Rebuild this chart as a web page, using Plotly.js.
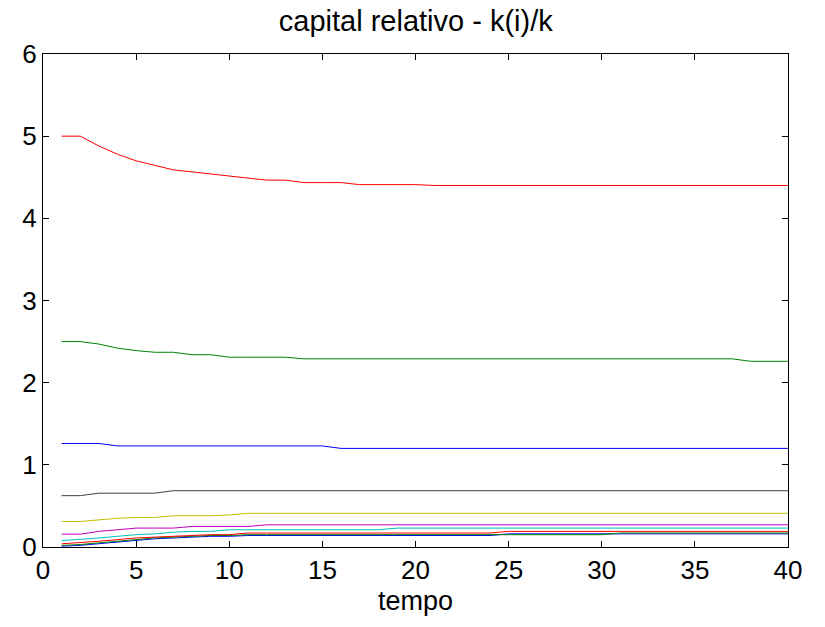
<!DOCTYPE html>
<html>
<head>
<meta charset="utf-8">
<script src="https://cdn.plot.ly/plotly-3.0.1.min.js"></script>
<style>html,body{margin:0;padding:0;background:#fff;}#chart{width:825px;height:627px;}</style>
</head>
<body>
<div id="chart"></div>
<script>
var tempo = [];
for (var t = 1; t <= 40; t++) tempo.push(t);

// relative capital per agent (10 agents)
var agent10 = [5.00,5.00,4.88,4.78,4.70,4.645,4.59,4.565,4.54,4.515,4.49,4.465,4.465,4.435,4.435,4.435,4.41,4.41,4.41,4.41,4.40,4.40,4.40,4.40,4.40,4.40,4.40,4.40,4.40,4.40,4.40,4.40,4.40,4.40,4.40,4.40,4.40,4.40,4.40,4.40];
var agent9 = [2.50,2.50,2.47,2.42,2.39,2.37,2.37,2.34,2.34,2.31,2.31,2.31,2.31,2.29,2.29,2.29,2.29,2.29,2.29,2.29,2.29,2.29,2.29,2.29,2.29,2.29,2.29,2.29,2.29,2.29,2.29,2.29,2.29,2.29,2.29,2.29,2.29,2.26,2.26,2.26];
var agent8 = [1.26,1.26,1.26,1.23,1.23,1.23,1.23,1.23,1.23,1.23,1.23,1.23,1.23,1.23,1.23,1.20,1.20,1.20,1.20,1.20,1.20,1.20,1.20,1.20,1.20,1.20,1.20,1.20,1.20,1.20,1.20,1.20,1.20,1.20,1.20,1.20,1.20,1.20,1.20,1.20];
var agent7 = [0.625,0.625,0.655,0.655,0.655,0.655,0.685,0.685,0.685,0.685,0.685,0.685,0.685,0.685,0.685,0.685,0.685,0.685,0.685,0.685,0.685,0.685,0.685,0.685,0.685,0.685,0.685,0.685,0.685,0.685,0.685,0.685,0.685,0.685,0.685,0.685,0.685,0.685,0.685,0.685];
var agent6 = [0.31,0.31,0.33,0.35,0.36,0.36,0.38,0.38,0.38,0.39,0.41,0.41,0.41,0.41,0.41,0.41,0.41,0.41,0.41,0.41,0.41,0.41,0.41,0.41,0.41,0.41,0.41,0.41,0.41,0.41,0.41,0.41,0.41,0.41,0.41,0.41,0.41,0.41,0.41,0.41];
var agent5 = [0.156,0.156,0.19,0.21,0.23,0.23,0.23,0.25,0.25,0.25,0.25,0.27,0.27,0.27,0.27,0.27,0.27,0.27,0.27,0.27,0.27,0.27,0.27,0.27,0.27,0.27,0.27,0.27,0.27,0.27,0.27,0.27,0.27,0.27,0.27,0.27,0.27,0.27,0.27,0.27];
var agent4 = [0.078,0.09,0.11,0.13,0.15,0.16,0.18,0.19,0.19,0.21,0.21,0.21,0.21,0.21,0.21,0.21,0.21,0.21,0.23,0.23,0.23,0.23,0.23,0.23,0.23,0.23,0.23,0.23,0.23,0.23,0.23,0.23,0.23,0.23,0.23,0.23,0.23,0.23,0.23,0.23];
var agent3 = [0.039,0.05,0.07,0.09,0.11,0.12,0.13,0.14,0.15,0.15,0.17,0.17,0.17,0.17,0.17,0.17,0.17,0.17,0.17,0.17,0.17,0.17,0.17,0.17,0.19,0.19,0.19,0.19,0.19,0.19,0.19,0.19,0.19,0.19,0.19,0.19,0.19,0.19,0.19,0.19];
var agent2 = [0.0195,0.03,0.05,0.07,0.09,0.11,0.12,0.13,0.14,0.14,0.15,0.15,0.15,0.15,0.15,0.15,0.15,0.15,0.15,0.15,0.15,0.15,0.15,0.15,0.15,0.15,0.15,0.15,0.15,0.15,0.17,0.17,0.17,0.17,0.17,0.17,0.17,0.17,0.17,0.17];
var agent1 = [0.0098,0.02,0.04,0.06,0.08,0.10,0.11,0.12,0.13,0.13,0.14,0.14,0.14,0.14,0.14,0.14,0.14,0.14,0.14,0.14,0.14,0.14,0.14,0.14,0.16,0.16,0.16,0.16,0.16,0.16,0.16,0.16,0.16,0.16,0.16,0.16,0.16,0.16,0.16,0.16];

var seriesList = [agent1, agent2, agent3, agent4, agent5, agent6, agent7, agent8, agent9, agent10];
var colorOrder = ['#0000FF', '#008000', '#FF0000', '#00BFBF', '#BF00BF', '#BFBF00', '#404040'];

var xTicks = [0, 5, 10, 15, 20, 25, 30, 35, 40];
var yTicks = [0, 1, 2, 3, 4, 5, 6];

var traces = seriesList.map(function (s, i) {
  return {
    x: tempo, y: s, type: 'scatter', mode: 'lines',
    line: {color: colorOrder[i % colorOrder.length], width: 1},
    hoverinfo: 'skip', showlegend: false
  };
});

var FONT = 'Liberation Sans, Arial, sans-serif';
var axisCommon = {
  showgrid: false, zeroline: false, showline: true, mirror: 'ticks',
  linecolor: '#000', linewidth: 1, ticks: 'inside', ticklen: 6, tickcolor: '#000',
  tickfont: {family: FONT, size: 26, color: '#000'}
};

var layout = {
  width: 825, height: 627,
  paper_bgcolor: '#fff', plot_bgcolor: '#fff',
  margin: {l: 43, r: 37, t: 54, b: 80},
  title: {text: 'capital relativo - k(i)/k', x: 0.504, xanchor: 'center', y: 0.966, yanchor: 'middle',
    font: {family: FONT, size: 29, color: '#000'}},
  xaxis: Object.assign({}, axisCommon, {range: [0, 40], tickvals: xTicks, ticktext: xTicks.map(String),
    title: {text: 'tempo', standoff: 6, font: {family: FONT, size: 27, color: '#000'}}}),
  yaxis: Object.assign({}, axisCommon, {range: [0, 6], tickvals: yTicks, ticktext: yTicks.map(String)}),
  showlegend: false
};

Plotly.newPlot('chart', traces, layout, {displayModeBar: false, staticPlot: true});
</script>
</body>
</html>
